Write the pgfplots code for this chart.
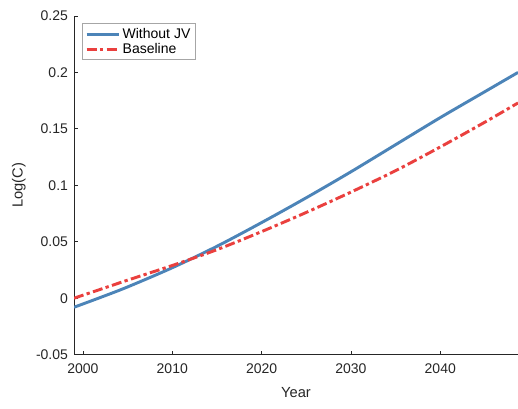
\documentclass[border=0pt]{standalone}
\usepackage{fontspec}
\setmainfont{Liberation Sans}
\usepackage{pgfplots}
\pgfplotsset{compat=1.18}
\definecolor{jvblue}{RGB}{76,132,184}
\definecolor{basered}{RGB}{234,64,62}
\definecolor{axisgray}{RGB}{38,38,38}
\begin{document}
\begin{tikzpicture}
\begin{axis}[
  scale only axis,
  width=333pt, height=254pt,
  xmin=1999, xmax=2048.7,
  ymin=-0.05, ymax=0.25,
  axis x line*=bottom, axis y line*=left,
  axis line style={axisgray, line width=0.6pt},
  tick style={axisgray, line width=0.6pt},
  tick align=inside,
  major tick length=3pt,
  xtick={2000,2010,2020,2030,2040},
  xticklabels={2000,2010,2020,2030,2040},
  ytick={-0.05,0,0.05,0.1,0.15,0.2,0.25},
  yticklabels={-0.05,0,0.05,0.1,0.15,0.2,0.25},
  ticklabel style={font=\fontsize{10.5}{12}\selectfont, text=axisgray},
  xticklabel style={yshift=-3pt},
  yticklabel style={xshift=-1pt},
  xlabel={Year}, ylabel={Log(C)},
  label style={font=\fontsize{11}{13}\selectfont, text=axisgray},
  xlabel style={yshift=-4pt},
  ylabel style={yshift=1pt},
  legend style={at={(0.018,0.979)}, anchor=north west,
    draw=gray!70, line width=0.6pt, font=\fontsize{10.5}{12}\selectfont,
    inner xsep=2pt, inner ysep=1.5pt, row sep=-2pt},
  legend cell align=left,
  legend image code/.code={\draw[#1, line width=2.2pt] (0pt,0pt) -- (24pt,0pt);},
]
\addplot[jvblue, line width=2.2pt, smooth] coordinates {
  (1999,-0.008) (2002,0.0008) (2005,0.010) (2010,0.027) (2015,0.046)
  (2020,0.067) (2025,0.089) (2030,0.112) (2035,0.136) (2040,0.160)
  (2045,0.183) (2048.7,0.200)
};
\addlegendentry{Without JV}
\addplot[basered, line width=2.2pt, smooth,
  dash pattern=on 7.5pt off 2.5pt on 2.5pt off 2.5pt] coordinates {
  (1999,0.000) (2002,0.008) (2005,0.016) (2010,0.029) (2015,0.043)
  (2020,0.059) (2025,0.076) (2030,0.094) (2035,0.113) (2040,0.134)
  (2045,0.156) (2048.7,0.173)
};
\addlegendentry{Baseline}
\coordinate (sw) at (rel axis cs:0,0);
\coordinate (ne) at (rel axis cs:1,1);
\end{axis}
\pgfresetboundingbox
\path ([shift={(-55.5pt,-40.5pt)}]sw) rectangle ([shift={(0pt,12pt)}]ne);
\end{tikzpicture}
\end{document}
